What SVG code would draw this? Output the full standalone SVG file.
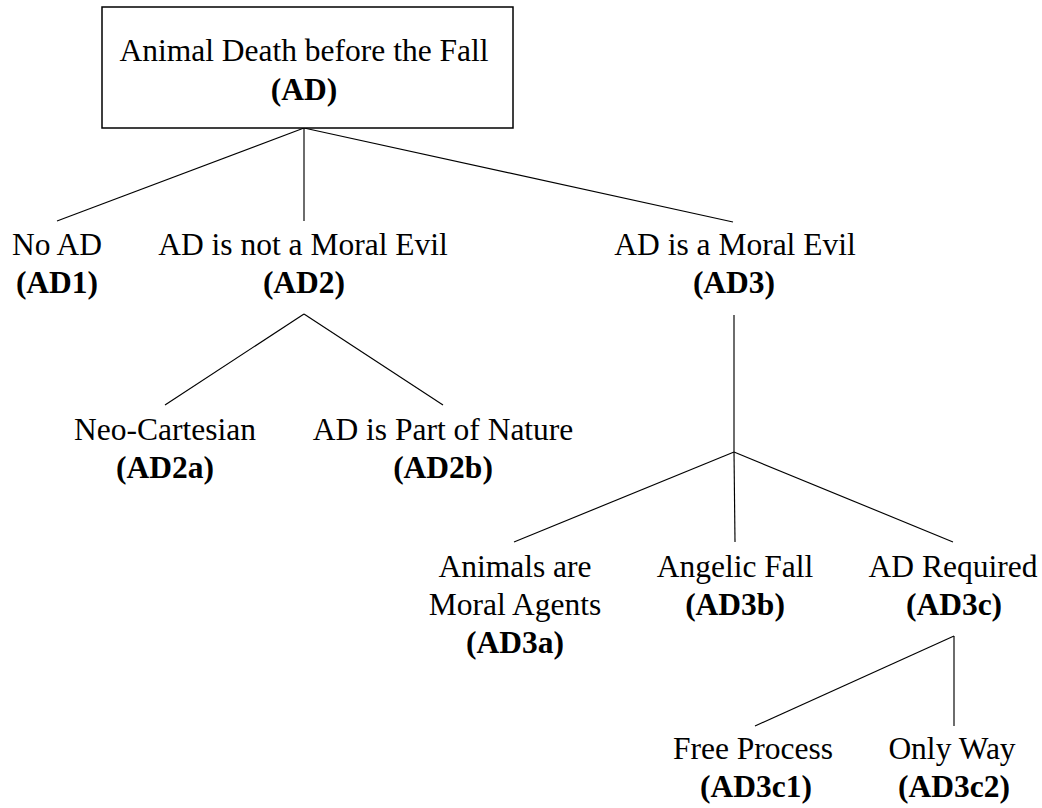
<svg xmlns="http://www.w3.org/2000/svg" width="1042" height="808" viewBox="0 0 1042 808">
<style>
  text { font-family: "Liberation Serif", "Times New Roman", serif; font-size: 31.5px; fill: #000; text-anchor: middle; }
  .b { font-weight: bold; }
  .box { fill: #fff; stroke: #000; stroke-width: 1.5; }
  .edge { stroke: #000; stroke-width: 1.15; fill: none; }
</style>
<rect width="1042" height="808" fill="#fff"/>
<g id="connectors">
  <line class="edge" x1="304" y1="128" x2="57" y2="221"/>
  <line class="edge" x1="304" y1="128" x2="304" y2="221"/>
  <line class="edge" x1="304" y1="128" x2="733" y2="222"/>
  <line class="edge" x1="304" y1="314" x2="165" y2="405"/>
  <line class="edge" x1="304" y1="314" x2="443" y2="405"/>
  <line class="edge" x1="734" y1="315" x2="734" y2="452"/>
  <line class="edge" x1="734" y1="452" x2="514" y2="542"/>
  <line class="edge" x1="734" y1="452" x2="735" y2="542"/>
  <line class="edge" x1="734" y1="452" x2="953" y2="542"/>
  <line class="edge" x1="954" y1="636" x2="755" y2="726"/>
  <line class="edge" x1="954" y1="636" x2="954" y2="726"/>
</g>
<g id="AD">
  <rect class="box" x="102" y="7" width="411" height="121"/>
  <text x="304" y="61">Animal Death before the Fall</text>
  <text class="b" x="304" y="100">(AD)</text>
</g>
<g id="AD1">
  <text x="57" y="255">No AD</text>
  <text class="b" x="57" y="293">(AD1)</text>
</g>
<g id="AD2">
  <text x="303" y="255">AD is not a Moral Evil</text>
  <text class="b" x="304" y="293">(AD2)</text>
</g>
<g id="AD3">
  <text x="735" y="255">AD is a Moral Evil</text>
  <text class="b" x="734" y="293">(AD3)</text>
</g>
<g id="AD2a">
  <text x="165" y="440">Neo-Cartesian</text>
  <text class="b" x="165" y="478">(AD2a)</text>
</g>
<g id="AD2b">
  <text x="443" y="440">AD is Part of Nature</text>
  <text class="b" x="443" y="478">(AD2b)</text>
</g>
<g id="AD3a">
  <text x="515" y="577">Animals are</text>
  <text x="515" y="615">Moral Agents</text>
  <text class="b" x="515" y="653">(AD3a)</text>
</g>
<g id="AD3b">
  <text x="735" y="577">Angelic Fall</text>
  <text class="b" x="735" y="615">(AD3b)</text>
</g>
<g id="AD3c">
  <text x="953" y="577">AD Required</text>
  <text class="b" x="954" y="615">(AD3c)</text>
</g>
<g id="AD3c1">
  <text x="753" y="759">Free Process</text>
  <text class="b" x="756" y="797">(AD3c1)</text>
</g>
<g id="AD3c2">
  <text x="952" y="759">Only Way</text>
  <text class="b" x="954" y="797">(AD3c2)</text>
</g>
</svg>
